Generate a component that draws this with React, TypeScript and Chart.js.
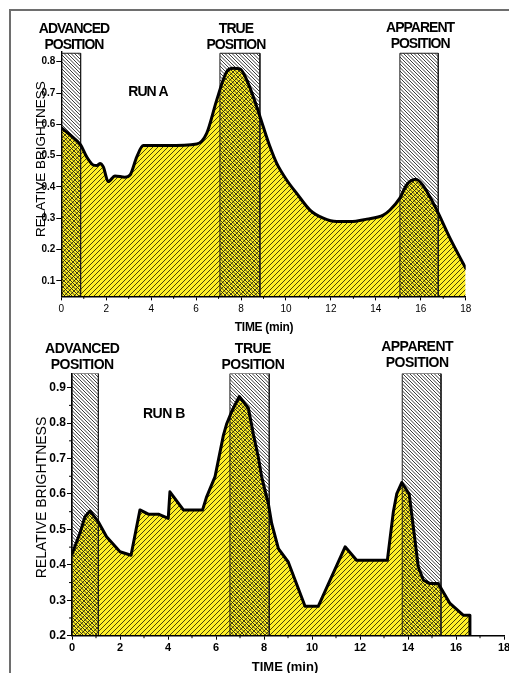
import React, { useEffect, useRef } from 'react';
import { Chart, registerables } from 'chart.js';

Chart.register(...registerables);

// ---------- RUN A (smooth curve) ----------
const timeA = [0, 0.39, 0.86, 1.13, 1.42, 1.58, 1.72, 1.87, 2.09, 2.39, 2.83, 3.06, 3.36, 3.65, 4.69, 6.03, 6.47, 6.92, 7.36, 7.65, 7.95, 8.32, 8.7, 8.99, 9.29, 9.59, 10.03, 10.48, 11.07, 11.66, 12.26, 12.85, 13.6, 14.33, 14.63, 15.07, 15.37, 15.78, 16.1, 16.4, 16.78, 17.3, 18];
const brightA = [0.589, 0.566, 0.534, 0.496, 0.47, 0.468, 0.475, 0.464, 0.417, 0.435, 0.431, 0.438, 0.496, 0.532, 0.532, 0.537, 0.571, 0.678, 0.768, 0.779, 0.777, 0.731, 0.656, 0.592, 0.528, 0.475, 0.422, 0.379, 0.326, 0.3, 0.289, 0.289, 0.297, 0.31, 0.326, 0.364, 0.406, 0.424, 0.405, 0.369, 0.316, 0.236, 0.14];

// ---------- RUN B (polyline) ----------
const timeB = [0, 0.33, 0.54, 0.75, 1.1, 1.44, 2.0, 2.46, 2.83, 3.18, 3.6, 4.01, 4.08, 4.64, 5.44, 5.61, 5.96, 6.31, 6.45, 6.65, 6.97, 7.35, 7.55, 7.76, 7.9, 8.18, 8.32, 8.6, 9.01, 9.71, 10.26, 11.38, 11.86, 13.14, 13.39, 13.53, 13.74, 14.05, 14.43, 14.64, 14.92, 15.26, 15.75, 16.3, 16.58, 16.58];
const brightB = [0.43, 0.489, 0.536, 0.552, 0.521, 0.479, 0.437, 0.427, 0.555, 0.543, 0.543, 0.531, 0.606, 0.555, 0.555, 0.592, 0.649, 0.766, 0.799, 0.832, 0.875, 0.842, 0.771, 0.705, 0.649, 0.573, 0.517, 0.446, 0.408, 0.283, 0.283, 0.451, 0.413, 0.413, 0.55, 0.6, 0.632, 0.6, 0.394, 0.357, 0.347, 0.347, 0.291, 0.258, 0.258, 0.2];

// ---------- position zones ----------
const zoneNames = ['ADVANCED', 'TRUE', 'APPARENT'];
const zoneSecondLine = 'POSITION';
const zoneStartA = [0, 7.06, 15.07];
const zoneEndA = [0.86, 8.84, 16.78];
const zoneTopA = 0.827;
const zoneStartB = [0, 6.58, 13.76];
const zoneEndB = [1.1, 8.22, 15.375];
const zoneTopB = 0.94;

// ---------- ticks ----------
const xTicks = [0, 2, 4, 6, 8, 10, 12, 14, 16, 18];
const xMinorTicks = [1, 3, 5, 7, 9, 11, 13, 15, 17];
const yTicksA = [0.1, 0.2, 0.3, 0.4, 0.5, 0.6, 0.7, 0.8];
const yMinorA: number[] = [];
const yTicksB = [0.2, 0.3, 0.4, 0.5, 0.6, 0.7, 0.8, 0.9];
const yMinorB = [0.25, 0.35, 0.45, 0.55, 0.65, 0.75, 0.85];

const xTitle = 'TIME (min)';
const yTitle = 'RELATIVE BRIGHTNESS';
const runA = 'RUN A';
const runB = 'RUN B';

const FAMILY = '"Liberation Sans", Arial, Helvetica, sans-serif';

interface Spec {
  time: number[];
  bright: number[];
  smooth: boolean;
  zStart: number[];
  zEnd: number[];
  zTop: number;
  yMin: number;
  yMax: number;
  yTicks: number[];
  yMinor: number[];
  run: string;
  runX: number;
  runY: number;
  width: number;
  height: number;
  padTop: number;
  padRight: number;
  yW: number;
  xH: number;
  xFont: any;
  yFont: any;
  xPad: number;
  labelSize: number;
  labelSpacing: string;
  labelLineY: number[];
  labelDx: number[];
  labelDy: number[];
  xTitleDx: number;
  xTitleY: number;
  xTitleSize: number;
  xTitleSpacing: string;
  yTitleX: number;
  yTitleY: number;
  yTitleSize: number;
}

function hatch(ctx: CanvasRenderingContext2D, size: number, bg: string | null, color: string, lw: number, rising: boolean, count: number) {
  const c = document.createElement('canvas');
  c.width = size;
  c.height = size;
  const g = c.getContext('2d')!;
  if (bg) {
    g.fillStyle = bg;
    g.fillRect(0, 0, size, size);
  }
  g.strokeStyle = color;
  g.lineWidth = lw;
  const step = size / count;
  g.beginPath();
  for (let k = -2 * count; k <= 3 * count; k++) {
    const o = k * step;
    if (rising) {
      g.moveTo(o, 0);
      g.lineTo(o - size, size);
    } else {
      g.moveTo(o, 0);
      g.lineTo(o + size, size);
    }
  }
  g.stroke();
  return ctx.createPattern(c, 'repeat')!;
}

function capCenterBaseline(center: number, size: number) {
  return center + size * 0.358;
}

function makeChart(canvas: HTMLCanvasElement, s: Spec) {
  const ctx = canvas.getContext('2d')!;
  const yellow = hatch(ctx, 5, 'rgb(255,240,40)', 'rgba(0,0,0,0.72)', 1, true, 1);
  const zoneHatch = hatch(ctx, 7, null, 'rgba(25,25,25,0.85)', 1, false, 2);
  const pts = s.time.map((t, i) => ({ x: t, y: s.bright[i] }));

  const curveOpts = s.smooth
    ? { cubicInterpolationMode: 'monotone' as const, tension: 0.4 }
    : { tension: 0 };

  const zoneSets = s.zStart.map((x0, i) => ({
    data: [
      { x: x0, y: s.yMin },
      { x: x0, y: s.zTop },
      { x: s.zEnd[i], y: s.zTop },
      { x: s.zEnd[i], y: s.yMin },
    ],
    fill: 'start',
    backgroundColor: zoneHatch,
    borderColor: '#1e1e1e',
    borderWidth: 1,
    pointRadius: 0,
    tension: 0,
    order: 2,
  }));

  const textPlugin = {
    id: 'texts' + s.run,
    afterDraw(chart: any) {
      const c: CanvasRenderingContext2D = chart.ctx;
      const x = chart.scales.x;
      const y = chart.scales.y;
      const area = chart.chartArea;
      c.save();
      // minor ticks
      c.strokeStyle = '#000';
      c.lineWidth = 1;
      c.beginPath();
      xMinorTicks.forEach((v) => {
        const px = x.getPixelForValue(v);
        c.moveTo(px, area.bottom);
        c.lineTo(px, area.bottom + 2.5);
      });
      s.yMinor.forEach((v) => {
        const py = y.getPixelForValue(v);
        c.moveTo(area.left - 3, py);
        c.lineTo(area.left, py);
      });
      c.stroke();

      c.fillStyle = '#000';
      c.textAlign = 'center';
      c.textBaseline = 'alphabetic';
      // zone labels
      c.font = `bold ${s.labelSize}px ${FAMILY}`;
      (c as any).letterSpacing = s.labelSpacing;
      zoneNames.forEach((name, i) => {
        const cx = x.getPixelForValue((s.zStart[i] + s.zEnd[i]) / 2) + s.labelDx[i];
        c.fillText(name, cx, capCenterBaseline(s.labelLineY[0] + s.labelDy[i], s.labelSize));
        c.fillText(zoneSecondLine, cx, capCenterBaseline(s.labelLineY[1] + s.labelDy[i], s.labelSize));
      });
      // run label
      c.fillText(s.run, x.getPixelForValue(s.runX), capCenterBaseline(y.getPixelForValue(s.runY), s.labelSize));
      // x title
      c.font = `bold ${s.xTitleSize}px ${FAMILY}`;
      (c as any).letterSpacing = s.xTitleSpacing;
      c.fillText(xTitle, (area.left + area.right) / 2 + s.xTitleDx, capCenterBaseline(s.xTitleY, s.xTitleSize));
      // y title
      (c as any).letterSpacing = '0px';
      c.font = `${s.yTitleSize}px ${FAMILY}`;
      c.translate(s.yTitleX, s.yTitleY);
      c.rotate(-Math.PI / 2);
      c.fillText(yTitle, 0, s.yTitleSize * 0.358);
      c.restore();
    },
  };

  return new Chart(canvas, {
    type: 'line',
    data: {
      datasets: [
        {
          data: pts,
          fill: false,
          borderColor: '#000',
          borderWidth: 3,
          borderJoinStyle: 'round',
          borderCapStyle: 'round',
          pointRadius: 0,
          order: 1,
          ...curveOpts,
        } as any,
        ...(zoneSets as any[]),
        {
          data: pts,
          fill: 'start',
          backgroundColor: yellow,
          borderWidth: 0,
          borderColor: 'rgba(0,0,0,0)',
          pointRadius: 0,
          order: 3,
          ...curveOpts,
        } as any,
      ],
    },
    options: {
      responsive: false,
      animation: false,
      events: [],
      layout: { padding: { left: 0, right: s.padRight, top: s.padTop, bottom: 0 } },
      plugins: {
        legend: { display: false },
        tooltip: { enabled: false },
        title: { display: false },
      },
      scales: {
        x: {
          type: 'linear',
          min: 0,
          max: 18,
          afterBuildTicks: (sc: any) => {
            sc.ticks = xTicks.map((v) => ({ value: v }));
          },
          afterFit: (sc: any) => {
            sc.height = s.xH;
            sc.paddingLeft = 0;
            sc.paddingRight = 0;
          },
          ticks: {
            font: s.xFont,
            color: '#000',
            padding: s.xPad,
            maxRotation: 0,
            autoSkip: false,
            callback: (v: any) => String(v),
          },
          grid: { display: true, drawOnChartArea: false, drawTicks: true, tickLength: 4, color: '#000', lineWidth: 1, z: 1 },
          border: { display: true, color: '#000', width: 1.4, z: 1 },
        },
        y: {
          type: 'linear',
          min: s.yMin,
          max: s.yMax,
          afterBuildTicks: (sc: any) => {
            sc.ticks = s.yTicks.map((v) => ({ value: v }));
          },
          afterFit: (sc: any) => {
            sc.width = s.yW;
            sc.paddingTop = 0;
            sc.paddingBottom = 0;
          },
          ticks: {
            font: s.yFont,
            color: '#000',
            padding: 1,
            autoSkip: false,
            callback: (v: any) => Number(v).toFixed(1),
          },
          grid: { display: true, drawOnChartArea: false, drawTicks: true, tickLength: 5, color: '#000', lineWidth: 1, z: 1 },
          border: { display: true, color: '#000', width: 1.4, z: 1 },
        },
      },
    } as any,
    plugins: [textPlugin as any],
  });
}

const specA: Spec = {
  time: timeA,
  bright: brightA,
  smooth: true,
  zStart: zoneStartA,
  zEnd: zoneEndA,
  zTop: zoneTopA,
  yMin: 0.05,
  yMax: 0.832,
  yTicks: yTicksA,
  yMinor: yMinorA,
  run: runA,
  runX: 3.86,
  runY: 0.707,
  width: 509,
  height: 335,
  padTop: 51.7,
  padRight: 43.3,
  yW: 61.3,
  xH: 38.6,
  xFont: { family: FAMILY, size: 10, weight: 'normal' },
  yFont: { family: FAMILY, size: 10, weight: 'bold' },
  xPad: 3,
  labelSize: 14,
  labelSpacing: '-1px',
  labelLineY: [28, 44],
  labelDx: [3, -4, 1],
  labelDy: [0, 0, -1.5],
  xTitleDx: 0.5,
  xTitleY: 326.7,
  xTitleSize: 12,
  xTitleSpacing: '-0.3px',
  yTitleX: 40,
  yTitleY: 159.2,
  yTitleSize: 13.5,
};

const specB: Spec = {
  time: timeB,
  bright: brightB,
  smooth: false,
  zStart: zoneStartB,
  zEnd: zoneEndB,
  zTop: zoneTopB,
  yMin: 0.2,
  yMax: 0.94,
  yTicks: yTicksB,
  yMinor: yMinorB,
  run: runB,
  runX: 3.83,
  runY: 0.828,
  width: 509,
  height: 338,
  padTop: 38.5,
  padRight: 5,
  yW: 72,
  xH: 37.3,
  xFont: { family: FAMILY, size: 11, weight: 'bold' },
  yFont: { family: FAMILY, size: 12, weight: 'bold' },
  xPad: 2,
  labelSize: 14,
  labelSpacing: '-0.5px',
  labelLineY: [12.5, 28.8],
  labelDx: [-3, 3.3, -4.5],
  labelDy: [0, 0, -2],
  xTitleDx: -3,
  xTitleY: 331.7,
  xTitleSize: 13,
  xTitleSpacing: '0px',
  yTitleX: 41.3,
  yTitleY: 162.5,
  yTitleSize: 14,
};

export default function App() {
  const refA = useRef<HTMLCanvasElement>(null);
  const refB = useRef<HTMLCanvasElement>(null);

  useEffect(() => {
    const charts = [makeChart(refA.current!, specA), makeChart(refB.current!, specB)];
    return () => charts.forEach((c) => c.destroy());
  }, []);

  return (
    <div style={{ position: 'fixed', left: 0, top: 0, width: 509, height: 673, overflow: 'hidden', background: '#fff' }}>
      <div
        style={{
          position: 'absolute',
          left: 9,
          top: 9,
          width: 1000,
          height: 1000,
          borderTop: '2px solid #6e6e6e',
          borderLeft: '2px solid #6e6e6e',
        }}
      />
      <canvas
        ref={refA}
        width={specA.width}
        height={specA.height}
        style={{ position: 'absolute', left: 0, top: 0, width: specA.width, height: specA.height }}
      />
      <canvas
        ref={refB}
        width={specB.width}
        height={specB.height}
        style={{ position: 'absolute', left: 0, top: 335, width: specB.width, height: specB.height }}
      />
    </div>
  );
}
